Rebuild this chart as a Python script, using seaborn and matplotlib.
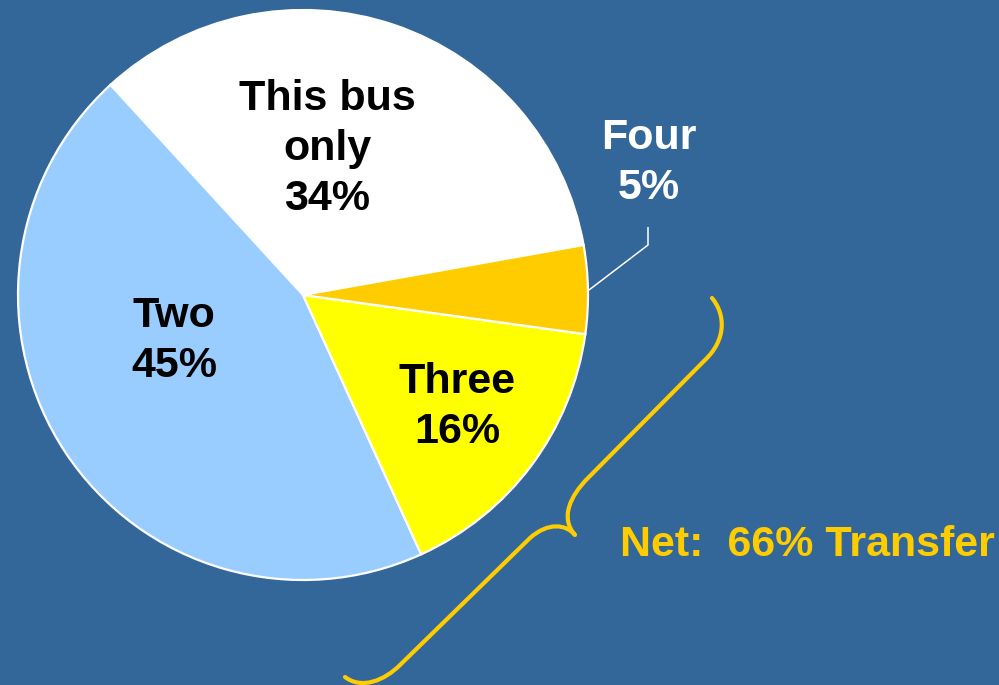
import matplotlib
matplotlib.use("Agg")
import matplotlib.pyplot as plt
from matplotlib.path import Path
from matplotlib.patches import PathPatch
import seaborn as sns

categories = ["This bus only", "Two", "Three", "Four"]
shares = [34, 45, 16, 5]
colors = ["#FFFFFF", "#99CCFF", "#FFFF00", "#FFCC00"]
label_texts = ["This bus\nonly\n34%", "Two\n45%", "Three\n16%", "Four\n5%"]
net_text = "Net:  66% Transfer"

BG = "#336699"
sns.set_theme(style="white")
plt.rcParams["font.family"] = ["Liberation Sans", "DejaVu Sans"]

W, H = 999, 685
fig = plt.figure(figsize=(W / 100, H / 100), dpi=100, facecolor=BG)
ax = fig.add_axes([0, 0, 1, 1])
ax.set_facecolor(BG)
ax.set_xlim(0, W)
ax.set_ylim(0, H)
ax.set_aspect("equal")
ax.axis("off")

def py(y):
    return H - y

cx, cy, R = 303, py(295), 285
ax.pie(shares, colors=colors, startangle=10.1, counterclock=True,
       center=(cx, cy), radius=R,
       wedgeprops=dict(edgecolor="white", linewidth=1.6))
ax.set_xlim(0, W)
ax.set_ylim(0, H)

fs = 31
ls = 1.33
ax.text(327, py(149), label_texts[0], ha="center", va="center", fontsize=fs,
        fontweight="bold", color="black", linespacing=ls)
ax.text(174, py(341), label_texts[1], ha="center", va="center", fontsize=fs,
        fontweight="bold", color="black", linespacing=ls)
ax.text(457, py(407), label_texts[2], ha="center", va="center", fontsize=fs,
        fontweight="bold", color="black", linespacing=ls)
ax.text(649, py(163), label_texts[3], ha="center", va="center", fontsize=fs,
        fontweight="bold", color="white", linespacing=ls)

# leader line for "Four"
ax.plot([589, 648, 648], [py(290), py(245), py(227)], color="white", lw=1.1,
        solid_capstyle="butt")

# brace
verts = [
    (712, 298),
    (726, 315), (726, 340), (705, 360),
    (588, 478),
    (570, 496), (560, 518), (575, 535),
    (566, 524), (548, 522), (530, 538),
    (400, 665),
    (385, 680), (362, 690), (345, 677),
]
codes = [Path.MOVETO,
         Path.CURVE4, Path.CURVE4, Path.CURVE4,
         Path.LINETO,
         Path.CURVE4, Path.CURVE4, Path.CURVE4,
         Path.CURVE4, Path.CURVE4, Path.CURVE4,
         Path.LINETO,
         Path.CURVE4, Path.CURVE4, Path.CURVE4]
verts = [(x, py(y)) for x, y in verts]
ax.add_patch(PathPatch(Path(verts, codes), fill=False, edgecolor="#FFCC00",
                       lw=3, capstyle="round", joinstyle="round"))

ax.text(620, py(545), net_text, ha="left", va="center", fontsize=31,
        fontweight="bold", color="#FFCC00")

fig.savefig("out.png", dpi=100, facecolor=BG)
